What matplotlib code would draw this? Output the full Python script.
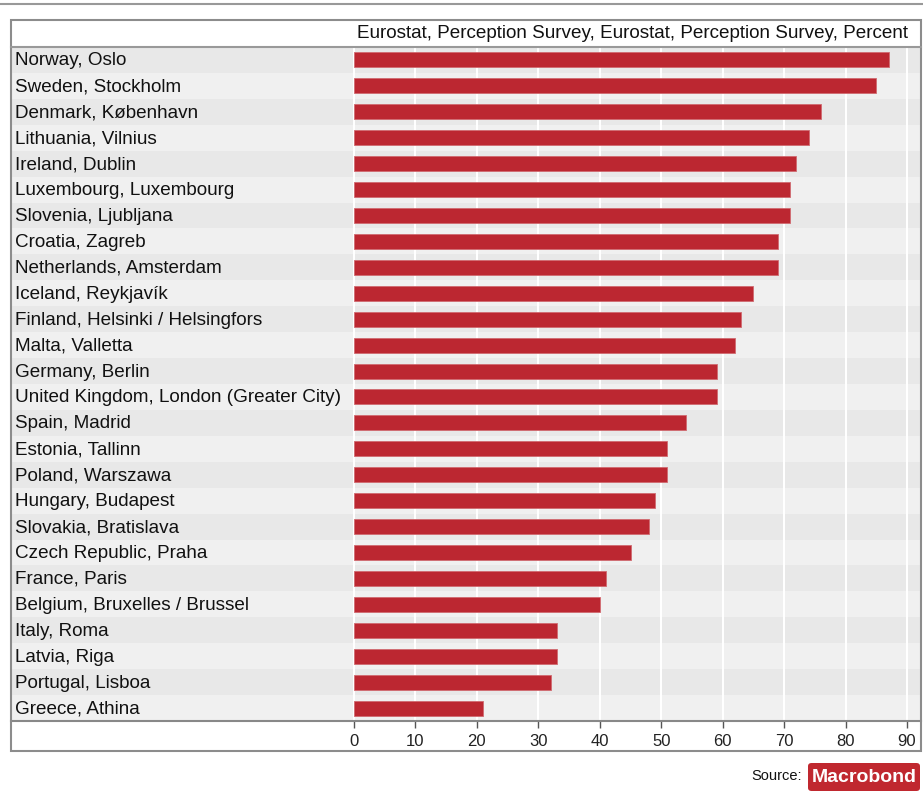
import matplotlib
matplotlib.use('Agg')
import matplotlib.pyplot as plt
from matplotlib.patches import Rectangle, FancyBboxPatch
from matplotlib.lines import Line2D

plt.rcParams['font.family'] = ['Liberation Sans', 'DejaVu Sans']

cities = [
    "Norway, Oslo", "Sweden, Stockholm", "Denmark, København", "Lithuania, Vilnius",
    "Ireland, Dublin", "Luxembourg, Luxembourg", "Slovenia, Ljubljana", "Croatia, Zagreb",
    "Netherlands, Amsterdam", "Iceland, Reykjavík", "Finland, Helsinki / Helsingfors",
    "Malta, Valletta", "Germany, Berlin", "United Kingdom, London (Greater City)",
    "Spain, Madrid", "Estonia, Tallinn", "Poland, Warszawa", "Hungary, Budapest",
    "Slovakia, Bratislava", "Czech Republic, Praha", "France, Paris",
    "Belgium, Bruxelles / Brussel", "Italy, Roma", "Latvia, Riga", "Portugal, Lisboa",
    "Greece, Athina",
]
values = [87, 85, 76, 74, 72, 71, 71, 69, 69, 65, 63, 62, 59, 59, 54, 51, 51, 49, 48,
          45, 41, 40, 33, 33, 32, 21]
xticks = [0, 10, 20, 30, 40, 50, 60, 70, 80, 90]
header = "Eurostat, Perception Survey, Eurostat, Perception Survey, Percent"

W, H = 923, 796
fig = plt.figure(figsize=(W / 100, H / 100), dpi=100)

# frame geometry in pixels
fx0, fx1, fy_top, fy_head, fy_plot, fy_bot = 11, 921, 20, 47, 721, 751
px0, px90 = 354, 907
scale = (px90 - px0) / 90.0
xmin = -(px0 - fx0) / scale
xmax = 90 + (fx1 - px90) / scale

ax = fig.add_axes([fx0 / W, 1 - fy_plot / H, (fx1 - fx0) / W, (fy_plot - fy_head) / H])
n = len(cities)
ax.set_xlim(xmin, xmax)
ax.set_ylim(n - 0.5, -0.5)

for i in range(n):
    ax.axhspan(i - 0.5, i + 0.5, color='#e8e8e8' if i % 2 == 0 else '#f0f0f0', lw=0, zorder=0)
for t in xticks:
    ax.axvline(t, color='white', lw=1.5, zorder=1)

ax.barh(range(n), values, height=0.58, color='#bc2731', edgecolor='#d06a70', lw=0.6, zorder=2)

for i, c in enumerate(cities):
    ax.text(xmin + 0.6, i + 0.04, c, ha='left', va='center', fontsize=13.6, color='#111111', zorder=3)

ax.set_xticks(xticks)
ax.set_xticklabels([str(t) for t in xticks], fontsize=12, color='#222222')
ax.tick_params(axis='x', direction='out', length=5, width=1, color='#555555', pad=4)
ax.set_yticks([])
for s in ax.spines.values():
    s.set_visible(False)
ax.spines['bottom'].set_visible(True)
ax.spines['bottom'].set_color('#888888')
ax.spines['bottom'].set_linewidth(1.5)

# outer frame and header separator
fig.patches.append(Rectangle((fx0 / W, 1 - fy_bot / H), (fx1 - fx0) / W, (fy_bot - fy_top) / H,
                             transform=fig.transFigure, fill=False, edgecolor='#8c8c8c', lw=1.5))
fig.lines.append(Line2D([fx0 / W, fx1 / W], [1 - fy_head / H] * 2, transform=fig.transFigure,
                        color='#999999', lw=1.5))
fig.lines.append(Line2D([0, 1], [1 - 4 / H] * 2, transform=fig.transFigure, color='#999999', lw=1.5))

fig.text(908 / W, 1 - 34 / H, header, ha='right', va='center', fontsize=13.6, color='#111111')

# source logo
fig.text(802 / W, 1 - 776 / H, "Source:", ha='right', va='center', fontsize=10.5, color='#111111')
fig.patches.append(FancyBboxPatch((808 / W, 1 - 791 / H), 112 / W, 28 / H,
                                  boxstyle='round,pad=0,rounding_size=0.004',
                                  transform=fig.transFigure, facecolor='#c0282f', edgecolor='none'))
fig.text(864 / W, 1 - 777 / H, "Macrobond", ha='center', va='center', fontsize=14,
         fontweight='bold', color='white')

fig.savefig('out.png', dpi=100, facecolor='white')
